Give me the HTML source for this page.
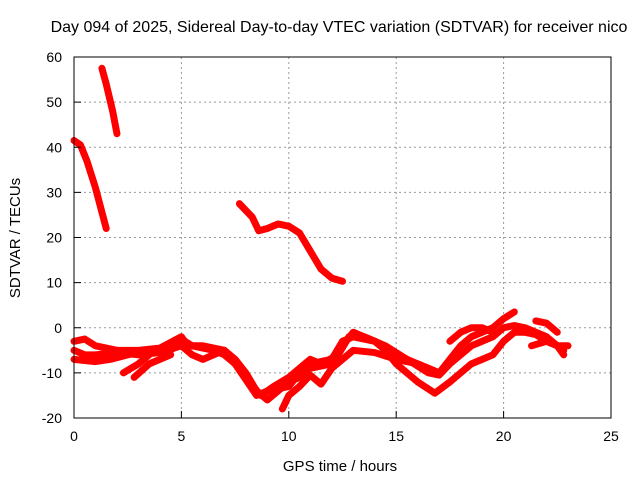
<!DOCTYPE html>
<html><head><meta charset="utf-8"><style>body{margin:0;background:#fff}svg{font-family:"Liberation Sans",sans-serif}</style></head>
<body>
<svg id="chart" width="640" height="480">
<rect width="640" height="480" fill="#fff"/>
<text x="339" y="32" text-anchor="middle" font-size="16">Day 094 of 2025, Sidereal Day-to-day VTEC variation (SDTVAR) for receiver nico</text>
<g id="grid"></g><g id="series"></g>
<rect x="74" y="57" width="537" height="361" fill="none" stroke="#000" stroke-width="1"/>
<g id="ticks"></g>
<text x="340" y="471" text-anchor="middle" font-size="15">GPS time / hours</text>
<text transform="translate(20,238) rotate(-90)" text-anchor="middle" font-size="15">SDTVAR / TECUs</text>
</svg>
<script>
const xTicks=[0,5,10,15,20,25];
const yTicks=[-20,-10,0,10,20,30,40,50,60];
const sA=[[0,41.5],[0.3,40.5],[0.6,37],[1,31],[1.5,22]];
const sB=[[1.3,57.5],[1.5,54],[1.8,48],[2,43]];
const sC=[[7.7,27.5],[8,26],[8.3,24.5],[8.6,21.5],[9,22],[9.5,23],[10,22.5],[10.5,21],[11,17],[11.5,13],[12,11],[12.5,10.3]];
const sD=[[0,-3],[0.5,-2.5],[1,-4],[2,-5],[3,-5],[4,-4.5],[5,-2],[5.3,-4],[6,-4],[7,-5],[7.5,-7],[8,-10],[8.5,-14],[9,-16],[9.5,-14],[10,-12],[10.5,-11],[11,-8],[12,-7],[12.5,-3],[13,-2],[14,-3],[15,-6],[16,-8],[17,-10],[17.5,-7],[18,-4],[18.5,-2],[19,-1],[19.5,0],[20,2],[20.5,3.5]];
const sE=[[0,-5],[0.5,-6],[1,-6],[2,-5.5],[3,-6],[4,-5.5],[5,-4],[5.5,-6],[6,-7],[6.5,-6],[7,-5],[7.5,-8],[8,-11],[8.7,-15],[9.3,-13],[10,-11],[10.5,-9],[11,-7],[11.5,-8],[12.3,-6],[12.8,-2],[13.5,-2],[14.5,-4],[15.5,-7],[16.5,-10],[17,-10.5],[17.5,-8],[18,-6],[18.5,-4],[19,-3],[19.5,-2],[20,0],[20.5,0.5],[21,0],[21.5,-1],[22,-2],[22.5,-4],[22.8,-5]];
const sF=[[0,-7],[1,-7.5],[1.7,-7],[2.5,-6],[3.5,-5],[4.5,-5],[5,-2.5],[5.5,-4],[6.5,-5],[7,-6],[7.5,-8],[8.5,-15],[9,-14],[10,-13],[10.5,-10],[11,-9],[12,-8],[12.5,-4],[13,-1],[14,-3],[14.5,-5],[15,-8],[16,-12],[16.8,-14.5],[17.5,-12],[18,-10],[18.5,-8],[19,-7],[19.5,-6],[20,-3],[20.5,-1],[21,-1],[21.5,-1.5],[22,-3],[22.5,-4],[23,-4]];
const sG=[[2.3,-10],[3,-8],[3.5,-6]];
const sH=[[2.8,-11],[3.5,-8],[4.5,-6]];
const sI=[[9.7,-18],[10,-15],[10.5,-13],[11,-10.5],[11.5,-12.5],[12,-9],[12.5,-7],[13,-5],[14,-5.5],[15,-7],[16,-8],[17,-10]];
const sJ=[[21.5,1.5],[22,1],[22.5,-1]];
const sK=[[21.3,-4],[22,-3],[22.5,-4],[22.8,-6]];
const sL=[[17.5,-3],[18,-1],[18.5,0],[19,0],[19.5,-1]];
const allSeries=[sA,sB,sC,sD,sE,sF,sG,sH,sI,sJ,sK,sL];
const X=v=>74+v*(537/25), Y=v=>418-(v+20)*(361/80);
const NS="http://www.w3.org/2000/svg";
const grid=document.getElementById('grid'),ticks=document.getElementById('ticks'),ser=document.getElementById('series');
function mk(tag,at,parent){const e=document.createElementNS(NS,tag);for(const k in at)e.setAttribute(k,at[k]);parent.appendChild(e);return e;}
xTicks.forEach(t=>{const x=X(t);
 if(t>0&&t<25){const g=mk('line',{x1:x,x2:x,y1:57,y2:418,stroke:'#999','stroke-dasharray':'2,3'},grid);
 
 }
 const tk=mk('line',{x1:x,x2:x,y1:418,y2:411,stroke:'#000'},ticks);
 
 
 const l=mk('text',{x:x,y:441,'text-anchor':'middle','font-size':14},ticks);l.textContent=t;
 
 });
yTicks.forEach(t=>{const y=Y(t);
 if(t>-20&&t<60){const g=mk('line',{x1:74,x2:611,y1:y,y2:y,stroke:'#999','stroke-dasharray':'2,3'},grid);
 
 }
 const tk=mk('line',{x1:74,x2:81,y1:y,y2:y,stroke:'#000'},ticks);
 
 
 const l=mk('text',{x:62,y:y+5,'text-anchor':'end','font-size':14},ticks);l.textContent=t;
 
 });
allSeries.forEach((s,i)=>{const p=mk('polyline',{points:s.map(d=>X(d[0])+','+Y(d[1])).join(' '),fill:'none',stroke:'#f00','stroke-width':7,'stroke-linejoin':'round','stroke-linecap':'round'},ser);
 
 });
</script>
</body></html>
